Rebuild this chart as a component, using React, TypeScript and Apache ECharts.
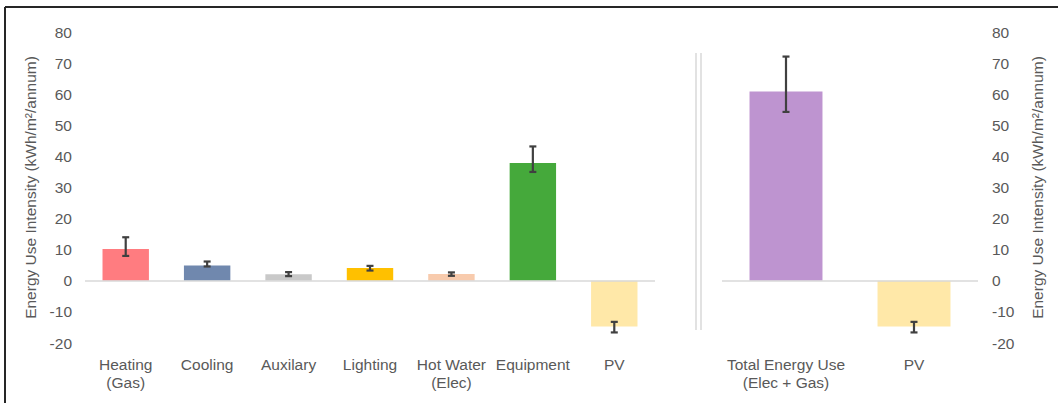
import React, { useEffect, useRef } from "react";
import * as echarts from "echarts";

const leftCategories = ["Heating\n(Gas)", "Cooling", "Auxilary", "Lighting", "Hot Water\n(Elec)", "Equipment", "PV"];
const leftValues = [10.2, 4.9, 2.1, 4.1, 2.2, 37.9, -14.7];
const leftErrLow = [8.0, 4.6, 1.5, 3.3, 1.6, 35.0, -16.6];
const leftErrHigh = [14.0, 6.2, 2.8, 4.8, 2.7, 43.2, -13.2];
const leftColors = ["#FF7C80", "#7088AE", "#C9C9C9", "#FFC000", "#F8CBAD", "#45A93B", "#FFE8A8"];

const rightCategories = ["Total Energy Use\n(Elec + Gas)", "PV"];
const rightValues = [60.9, -14.7];
const rightErrLow = [54.3, -16.6];
const rightErrHigh = [72.1, -13.2];
const rightColors = ["#BE94D0", "#FFE8A8"];

const axisName = "Energy Use Intensity (kWh/m²/annum)";
const textColor = "#595959";
const font = "'Liberation Sans', Arial, sans-serif";
const fs = 15.5;

function errorRender(params: any, api: any) {
  const x = api.value(0);
  const lo = api.coord([x, api.value(1)]);
  const hi = api.coord([x, api.value(2)]);
  const hw = 3.5;
  const style = { stroke: "#404040", lineWidth: 2.2 };
  return {
    type: "group",
    children: [
      { type: "line", shape: { x1: lo[0], y1: lo[1], x2: hi[0], y2: hi[1] }, style },
      { type: "line", shape: { x1: lo[0] - hw, y1: lo[1], x2: lo[0] + hw, y2: lo[1] }, style },
      { type: "line", shape: { x1: hi[0] - hw, y1: hi[1], x2: hi[0] + hw, y2: hi[1] }, style },
    ],
  };
}

export default function App() {
  const ref = useRef<HTMLDivElement>(null);
  useEffect(() => {
    const chart = echarts.init(ref.current!, null, { renderer: "svg" });
    const yAxisBase = {
      type: "value",
      min: -20,
      max: 80,
      interval: 10,
      axisLine: { show: false },
      axisTick: { show: false },
      splitLine: { show: false },
      axisLabel: { color: textColor, fontSize: fs, fontFamily: font, margin: 13 },
      name: axisName,
      nameLocation: "middle",
      nameRotate: 90,
      nameTextStyle: { color: textColor, fontSize: fs, fontFamily: font },
    };
    const xAxisBase = {
      type: "category",
      axisLine: { show: false },
      axisTick: { show: false },
      splitLine: { show: false },
      axisLabel: { color: textColor, fontSize: fs, fontFamily: font, margin: 12, lineHeight: 18, interval: 0 },
    };
    const zeroLine = {
      silent: true,
      symbol: "none",
      label: { show: false },
      lineStyle: { color: "#D9D9D9", width: 1.5, type: "solid" },
      data: [{ yAxis: 0 }],
    };
    chart.setOption({
      animation: false,
      grid: [
        { left: 85, right: 403, top: 32, bottom: 60 },
        { left: 722, right: 80, top: 32, bottom: 60 },
      ],
      xAxis: [
        { ...xAxisBase, gridIndex: 0, data: leftCategories },
        { ...xAxisBase, gridIndex: 1, data: rightCategories },
      ],
      yAxis: [
        { ...yAxisBase, gridIndex: 0, position: "left", nameGap: 47 },
        { ...yAxisBase, gridIndex: 1, position: "right", nameGap: 51, axisLabel: { ...yAxisBase.axisLabel, margin: 14 } },
      ],
      graphic: [
        { type: "line", shape: { x1: 5, y1: 7, x2: 1058, y2: 7 }, style: { stroke: "#262626", lineWidth: 2 } },
        { type: "line", shape: { x1: 5, y1: 7, x2: 5, y2: 403 }, style: { stroke: "#262626", lineWidth: 2 } },
        { type: "line", shape: { x1: 696, y1: 53, x2: 696, y2: 330 }, style: { stroke: "#D9D9D9", lineWidth: 1.5 } },
        { type: "line", shape: { x1: 701, y1: 53, x2: 701, y2: 330 }, style: { stroke: "#D9D9D9", lineWidth: 1.5 } },
      ],
      series: [
        {
          type: "bar",
          xAxisIndex: 0,
          yAxisIndex: 0,
          barCategoryGap: "43%",
          data: leftValues.map((v, i) => ({ value: v, itemStyle: { color: leftColors[i] } })),
          markLine: zeroLine,
        },
        {
          type: "bar",
          xAxisIndex: 1,
          yAxisIndex: 1,
          barCategoryGap: "43%",
          data: rightValues.map((v, i) => ({ value: v, itemStyle: { color: rightColors[i] } })),
          markLine: zeroLine,
        },
        {
          type: "custom",
          xAxisIndex: 0,
          yAxisIndex: 0,
          z: 10,
          renderItem: errorRender,
          encode: { x: 0, y: [1, 2] },
          data: leftErrLow.map((lo, i) => [i, lo, leftErrHigh[i]]),
        },
        {
          type: "custom",
          xAxisIndex: 1,
          yAxisIndex: 1,
          z: 10,
          renderItem: errorRender,
          encode: { x: 0, y: [1, 2] },
          data: rightErrLow.map((lo, i) => [i, lo, rightErrHigh[i]]),
        },
      ],
    });
    return () => chart.dispose();
  }, []);
  return (
    <div
      ref={ref}
      style={{ position: "fixed", left: 0, top: 0, width: 1058, height: 403, background: "#fff" }}
    />
  );
}
